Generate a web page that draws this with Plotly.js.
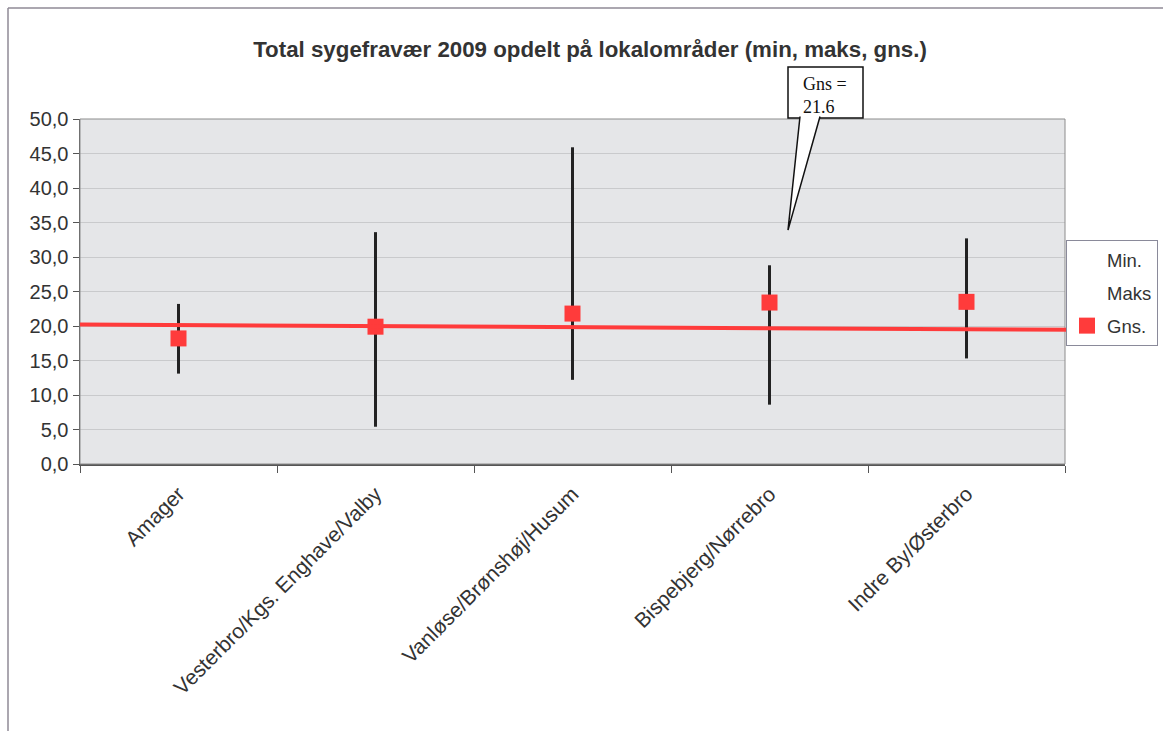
<!DOCTYPE html>
<html>
<head>
<meta charset="utf-8">
<script src="https://cdn.plot.ly/plotly-3.0.1.min.js"></script>
<style>html,body{margin:0;padding:0;background:#fff;}#chart{width:1163px;height:731px;}</style>
</head>
<body>
<div id="chart"></div>
<script>
const categories = ["Amager", "Vesterbro/Kgs. Enghave/Valby", "Vanløse/Brønshøj/Husum", "Bispebjerg/Nørrebro", "Indre By/Østerbro"];
const minValues = [13.1, 5.4, 12.2, 8.6, 15.3];
const maxValues = [23.2, 33.6, 45.9, 28.8, 32.7];
const gnsValues = [18.2, 19.9, 21.8, 23.4, 23.5];
const trendY = [20.2, 19.45];
const calloutText = "Gns =<br>21.6";
const calloutTipY = 33.9;

// hi-lo vertical lines built from min/max arrays
const hlX = [], hlY = [];
categories.forEach((c, i) => { hlX.push(c, c, null); hlY.push(minValues[i], maxValues[i], null); });

const traces = [
  {x: hlX, y: hlY, mode: "lines", line: {color: "#222", width: 3}, showlegend: false, hoverinfo: "skip"},
  {x: categories, y: minValues, name: "Min.", legendgroup: "a", mode: "markers", marker: {color: "rgba(0,0,0,0)", size: 1}},
  {x: categories, y: maxValues, name: "Maks", legendgroup: "b", mode: "markers", marker: {color: "rgba(0,0,0,0)", size: 1}},
  {x: categories, y: gnsValues, name: "Gns.", legendgroup: "c", mode: "markers", marker: {color: "#ff3b3b", symbol: "square", size: 16}}
];

const L = 80, R = 98, T = 119, B = 267;
const W = 1163 - L - R, H = 731 - T - B;
const px = v => (v - L) / W;           // pixel x -> paper
const py = v => (731 - B - v) / H;     // pixel y -> paper

const layout = {
  width: 1163, height: 731,
  margin: {l: L, r: R, t: T, b: B, pad: 0, autoexpand: false},
  paper_bgcolor: "#ffffff",
  plot_bgcolor: "#e5e6e8",
  separators: ", ",
  font: {family: "Liberation Sans, Arial, sans-serif", color: "#333"},
  title: {text: "<b>Total sygefravær 2009 opdelt på lokalområder (min, maks, gns.)</b>",
          font: {size: 22.3, color: "#333"}, x: px(590), xref: "paper", xanchor: "center", y: 1 - 49/731, yanchor: "middle"},
  xaxis: {type: "category", range: [-0.5, 4.5], tickangle: -45, tickson: "boundaries", ticks: "outside", ticklen: 7,
          tickcolor: "#555", showline: true, linecolor: "#555", linewidth: 1.5, mirror: false, showgrid: false,
          ticklabelstandoff: 8,
          tickfont: {size: 21, color: "#333"}, fixedrange: true, automargin: false},
  yaxis: {range: [0, 50], dtick: 5, tick0: 0, tickformat: ".1f", ticks: "outside", ticklen: 6, tickcolor: "#555",
          showline: true, linecolor: "#555", linewidth: 1.5, gridcolor: "#c9cacc", gridwidth: 1, zeroline: false,
          tickfont: {size: 20, color: "#333"}, fixedrange: true, automargin: false},
  showlegend: true,
  legend: {x: px(1066), xanchor: "left", y: py(240), yanchor: "top", bordercolor: "#8a8a9a", borderwidth: 1,
           bgcolor: "#fff", font: {size: 18.5, color: "#333"}, itemwidth: 30, tracegroupgap: 6},
  shapes: [
    // outer chart frame
    {type: "line", xref: "paper", yref: "paper", x0: px(8), x1: px(1163), y0: py(8), y1: py(8), line: {color: "#8f8a96", width: 1.5}, layer: "above"},
    {type: "line", xref: "paper", yref: "paper", x0: px(8), x1: px(8), y0: py(8), y1: py(731), line: {color: "#8f8a96", width: 1.5}, layer: "above"},
    // plot border
    {type: "rect", xref: "paper", yref: "paper", x0: 0, x1: 1, y0: 0, y1: 1, line: {color: "#8c8c8c", width: 1}, layer: "above"},
    // trend / average line
    {type: "line", xref: "paper", yref: "y", x0: 0, x1: px(1075), y0: trendY[0], y1: trendY[1], line: {color: "#ff3b3b", width: 4}, layer: "above"},
    // callout box
    {type: "rect", xref: "paper", yref: "paper", x0: px(788), x1: px(863), y0: py(118), y1: py(67), fillcolor: "#fff", line: {color: "#111", width: 1.5}, layer: "above"},
    // callout pointer
    {type: "path", xref: "paper", yref: "paper",
     path: "M " + px(800) + "," + py(116.5) + " L " + px(788) + "," + (calloutTipY/50) + " L " + px(820) + "," + py(116.5),
     fillcolor: "#fff", line: {color: "#111", width: 1.5}, layer: "above"}
  ],
  annotations: [
    {xref: "paper", yref: "paper", x: px(801), y: py(72), xanchor: "left", yanchor: "top", align: "left", showarrow: false,
     text: calloutText, font: {family: "Liberation Serif, Times New Roman, serif", size: 18, color: "#111"}}
  ]
};

Plotly.newPlot("chart", traces, layout, {displayModeBar: false, staticPlot: true});
</script>
</body>
</html>
